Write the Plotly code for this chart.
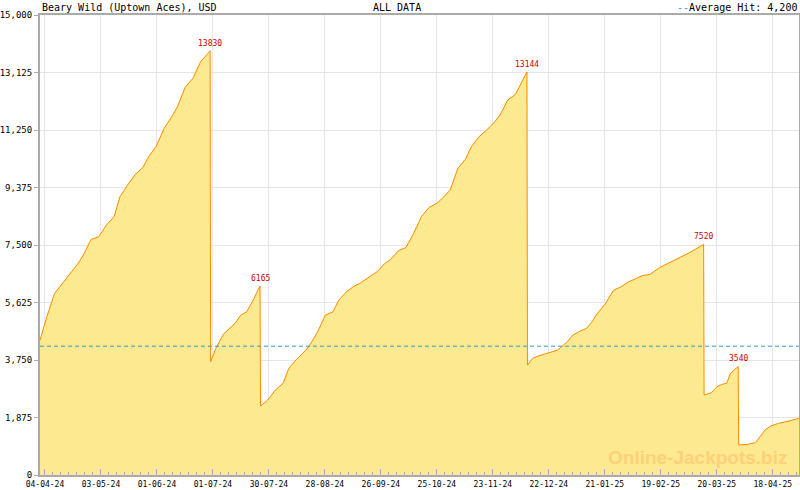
import pandas as pd
import plotly.graph_objects as go

# jackpot history
dates = [
    "2024-04-01 10:00", "2024-04-05", "2024-04-09", "2024-04-13", "2024-04-17", "2024-04-21",
    "2024-04-24", "2024-04-28", "2024-05-02", "2024-05-06", "2024-05-10", "2024-05-13",
    "2024-05-17", "2024-05-21", "2024-05-25", "2024-05-28", "2024-06-01", "2024-06-05",
    "2024-06-09", "2024-06-12", "2024-06-16", "2024-06-20", "2024-06-24", "2024-06-29 00:00",
    "2024-06-29 06:00", "2024-07-02", "2024-07-06", "2024-07-12", "2024-07-15", "2024-07-18",
    "2024-07-21", "2024-07-25 00:00", "2024-07-25 06:00", "2024-07-29", "2024-08-02", "2024-08-06",
    "2024-08-09", "2024-08-13", "2024-08-18", "2024-08-21", "2024-08-24", "2024-08-28",
    "2024-09-01", "2024-09-04", "2024-09-08", "2024-09-12", "2024-09-15", "2024-09-21",
    "2024-09-24", "2024-09-28", "2024-10-01", "2024-10-05", "2024-10-09", "2024-10-13",
    "2024-10-17", "2024-10-21", "2024-10-25", "2024-10-27", "2024-11-01", "2024-11-05",
    "2024-11-09", "2024-11-12", "2024-11-16", "2024-11-20", "2024-11-24", "2024-11-27",
    "2024-12-01", "2024-12-05", "2024-12-08", "2024-12-11 00:00", "2024-12-11 06:00", "2024-12-14",
    "2024-12-17", "2024-12-22", "2024-12-27", "2025-01-01", "2025-01-04", "2025-01-08",
    "2025-01-11", "2025-01-14", "2025-01-16", "2025-01-21", "2025-01-25", "2025-01-29",
    "2025-02-02", "2025-02-06", "2025-02-09", "2025-02-13", "2025-02-18", "2025-02-23",
    "2025-02-28", "2025-03-06", "2025-03-13 00:00", "2025-03-13 06:00", "2025-03-17", "2025-03-20",
    "2025-03-23", "2025-03-25", "2025-03-27", "2025-03-31 00:00", "2025-03-31 06:00", "2025-04-05",
    "2025-04-09", "2025-04-14", "2025-04-17", "2025-04-21", "2025-04-27", "2025-05-01 16:00",
]
values = [
    4400, 5160, 5920, 6250, 6575, 6880,
    7170, 7680, 7770, 8150, 8420, 9070,
    9450, 9800, 10030, 10380, 10725, 11300,
    11680, 12010, 12640, 12930, 13470, 13830,
    3695, 4130, 4600, 4945, 5215, 5320,
    5650, 6165, 2250, 2445, 2770, 2990,
    3480, 3770, 4075, 4345, 4670, 5215,
    5320, 5700, 5975, 6160, 6250, 6520,
    6630, 6900, 7030, 7310, 7420, 7880,
    8420, 8725, 8855, 8965, 9290, 10000,
    10300, 10700, 11030, 11250, 11500, 11740,
    12225, 12410, 12770, 13144, 3585, 3805,
    3880, 3970, 4075, 4345, 4565, 4705,
    4780, 5000, 5215, 5600, 6020, 6140,
    6300, 6410, 6500, 6540, 6760, 6920,
    7085, 7260, 7520, 2610, 2685, 2880,
    2965, 2990, 3315, 3540, 980, 1000,
    1055, 1470, 1600, 1685, 1770, 1850,
]

hit_dates = ["2024-06-29", "2024-07-25", "2024-12-11", "2025-03-13", "2025-03-31"]
hit_values = [13830, 6165, 13144, 7520, 3540]
average_hit = 4200

x_labels = ["04-04-24", "03-05-24", "01-06-24", "01-07-24", "30-07-24", "28-08-24", "26-09-24",
            "25-10-24", "23-11-24", "22-12-24", "21-01-25", "19-02-25", "20-03-25", "18-04-25"]
y_ticks = [0, 1875, 3750, 5625, 7500, 9375, 11250, 13125, 15000]

x_range = ["2024-04-01 10:00", "2025-05-01 16:00"]

mono = "DejaVu Sans Mono"

major = pd.to_datetime(x_labels, format="%d-%m-%y")
step = (major[-1] - major[0]) / (len(major) - 1)
minor = []
for i in range(len(major)):
    for k in range(1, 7):
        t = major[0] + step * i + step * k / 7
        if t < pd.Timestamp(x_range[1]):
            minor.append(t)
major_pos = [major[0] + step * i for i in range(len(major))]

fig = go.Figure()
fig.add_trace(go.Scatter(x=pd.to_datetime(dates, format="ISO8601"), y=values, mode="lines",
                         line=dict(color="#ff8a00", width=1),
                         fill="tozeroy", fillcolor="#fde98f",
                         hoverinfo="skip", showlegend=False))

fig.add_shape(type="line", xref="paper", x0=0, x1=1, y0=average_hit, y1=average_hit,
              line=dict(color="#3399cc", width=1, dash="4px,3px"))

for d, v in zip(hit_dates, hit_values):
    fig.add_annotation(x=d, y=v, text=str(v), showarrow=False, yanchor="bottom", yshift=1,
                       font=dict(family=mono, size=8, color="#cc0000"))

# header texts
fig.add_annotation(xref="paper", yref="paper", x=0, y=1, xanchor="left", yanchor="bottom",
                   yshift=0, showarrow=False, text="Beary Wild (Uptown Aces), USD",
                   font=dict(family=mono, size=10, color="#000"))
fig.add_annotation(xref="paper", yref="paper", x=0.47, y=1, xanchor="center", yanchor="bottom",
                   yshift=0, showarrow=False, text="ALL DATA",
                   font=dict(family=mono, size=10, color="#000"))
fig.add_annotation(xref="paper", yref="paper", x=1, y=1, xanchor="right", yanchor="bottom",
                   yshift=0, showarrow=False,
                   text="<span style='color:#3399cc'>--</span>Average Hit: 4,200",
                   font=dict(family=mono, size=10, color="#000"))
fig.add_annotation(xref="paper", yref="paper", x=0.987, y=0.039, xanchor="right", yanchor="middle",
                   showarrow=False, text="<b>Online-Jackpots.biz</b>",
                   font=dict(family="Liberation Sans", size=19, color="#fdd07a"))

fig.update_xaxes(type="date", range=x_range, automargin=False,
                 tickmode="array", tickvals=major_pos, ticktext=x_labels,
                 ticks="inside", ticklen=6, tickcolor="#aaaaaa",
                 minor=dict(tickmode="array", tickvals=minor, ticks="inside", ticklen=3,
                            tickcolor="#aaaaaa", showgrid=False),
                 showgrid=True, gridcolor="#e6e6e6", gridwidth=1,
                 showline=True, linecolor="#aaaaaa", linewidth=2, mirror=True,
                 tickfont=dict(family=mono, size=8, color="#000"), fixedrange=True)
fig.update_yaxes(range=[0, 15000], automargin=False, tickmode="array", tickvals=y_ticks,
                 ticktext=[f"{v:,}" for v in y_ticks],
                 ticks="outside", ticklen=4, tickcolor="#aaaaaa",
                 showgrid=True, gridcolor="#e6e6e6", gridwidth=1, zeroline=False,
                 showline=True, linecolor="#aaaaaa", linewidth=2, mirror=True,
                 tickfont=dict(family=mono, size=9, color="#000"), fixedrange=True)

fig.update_layout(width=800, height=490, margin=dict(l=40, r=1, t=15, b=15),
                  paper_bgcolor="white", plot_bgcolor="white", showlegend=False)

fig.write_html("out.html", config={"displayModeBar": False},
               post_script="document.body.style.margin='0';")
